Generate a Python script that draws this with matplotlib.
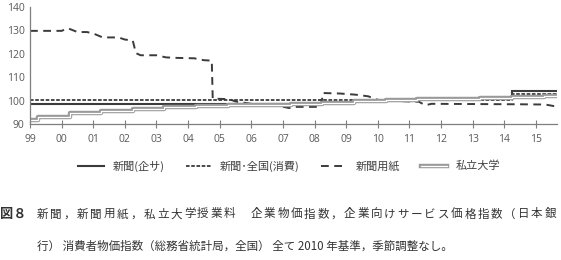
import matplotlib
matplotlib.use("Agg")
import matplotlib.pyplot as plt
import matplotlib.patheffects as pe

plt.rcParams['font.family'] = ['Noto Sans CJK JP', 'DejaVu Sans']

# ---- data (decimal year, index value; 2010 = 100) ----
year_ticks = list(range(1999, 2016))
year_labels = ["99", "00", "01", "02", "03", "04", "05", "06", "07", "08",
               "09", "10", "11", "12", "13", "14", "15"]

# 新聞（企業向けサービス価格指数）: step changes
kisa_x = [1999.0, 2008.25, 2009.25, 2010.0, 2011.25, 2014.25, 2015.67]
kisa_y = [98.6, 99.3, 99.7, 100.0, 100.6, 103.9, 103.9]

# 新聞・全国（消費者物価指数）
cpi_x = [1999.0, 2014.25, 2015.67]
cpi_y = [100.2, 103.0, 103.0]

# 新聞用紙（企業物価指数）
paper_x = [1999.0, 2000.0, 2000.2, 2000.5, 2000.8, 2001.0, 2001.3, 2001.8,
           2002.0, 2002.25, 2002.35, 2002.5, 2003.0, 2003.3, 2003.6, 2004.2,
           2004.5, 2004.75, 2004.78, 2005.3, 2005.5, 2006.0, 2006.5, 2006.9,
           2007.2, 2007.3, 2008.2, 2008.27, 2008.8, 2009.3, 2009.7, 2010.0,
           2010.5, 2011.0, 2011.3, 2011.5, 2011.7, 2014.5, 2015.3, 2015.67]
paper_y = [129.7, 129.7, 130.8, 129.2, 129.2, 128.6, 126.9, 126.9,
           126.0, 125.6, 120.2, 119.3, 119.3, 118.4, 118.2, 118.0,
           117.2, 117.0, 100.8, 100.6, 99.6, 98.6, 98.0, 97.6,
           96.8, 97.3, 97.3, 103.2, 103.0, 102.5, 101.8, 100.3,
           99.9, 99.6, 99.5, 98.0, 98.6, 98.4, 98.3, 97.4]

# 私立大学授業料（消費者物価指数）: April steps
univ_x = [1999.0, 1999.25, 2000.25, 2001.25, 2002.25, 2003.25, 2004.25,
          2005.25, 2006.25, 2007.25, 2008.25, 2009.25, 2010.25, 2011.25,
          2012.25, 2013.25, 2014.25, 2015.25, 2015.67]
univ_y = [91.6, 93.1, 94.6, 95.7, 96.5, 97.2, 97.7,
          98.0, 98.3, 98.7, 99.1, 99.6, 100.1, 100.5,
          100.8, 101.0, 101.6, 101.9, 101.9]

series_names = ["新聞(企サ)", "新聞･全国(消費)", "新聞用紙", "私立大学"]

# ---- figure ----
W, H = 561, 260
fig = plt.figure(figsize=(W / 100, H / 100), dpi=100)
ax = fig.add_axes([30 / W, 1 - 124 / H, (557 - 30) / W, (124 - 6.7) / H])

dark = "#3b3b3b"
ax.plot(kisa_x, kisa_y, drawstyle="steps-post", color=dark, lw=1.5,
        label=series_names[0], solid_joinstyle="miter")
ax.plot(cpi_x, cpi_y, drawstyle="steps-post", color=dark, lw=1.3,
        dashes=(2.0, 0.9), label=series_names[1])
ax.plot(paper_x, paper_y, color=dark, lw=1.4, dashes=(4.0, 2.8),
        label=series_names[2])
ax.plot(univ_x, univ_y, drawstyle="steps-post", color="white", lw=0.9,
        path_effects=[pe.Stroke(linewidth=3.2, foreground="#9a9a9a"), pe.Normal()],
        label=series_names[3])

ax.set_xlim(1999.0, 2015.67)
ax.set_ylim(90, 140)
ax.set_yticks([90, 100, 110, 120, 130, 140])
ax.set_xticks(year_ticks)
ax.set_xticklabels(year_labels)

for s in ["top", "right"]:
    ax.spines[s].set_visible(False)
for s in ["left", "bottom"]:
    ax.spines[s].set_color("#7f7f7f")
    ax.spines[s].set_linewidth(0.9)

ax.tick_params(axis="y", length=0, pad=4, labelsize=7.5, labelcolor="#595959")
ax.tick_params(axis="x", direction="inout", length=6, width=0.8, color="#7f7f7f",
               pad=4, labelsize=7.5, labelcolor="#595959")
for lab in ax.get_xticklabels() + ax.get_yticklabels():
    lab.set_family(["Open Sans", "DejaVu Sans"])

leg = fig.legend(loc="center", bbox_to_anchor=(289 / W, 1 - 166 / H), ncol=4,
                 frameon=False, fontsize=8, handlelength=2.3,
                 handletextpad=0.8, columnspacing=1.9)
for t in leg.get_texts():
    t.set_color("#404040")

# ---- caption ----
fig.text(0 / W, 1 - 214 / H, "図８", fontsize=9.5, fontweight="bold",
         va="center", ha="left", color="#333333")
line1 = "新聞，新聞用紙，私立大学授業料 企業物価指数，企業向けサービス価格指数（日本銀"
x0, pitch = 37, 13.35
for i, ch in enumerate(line1):
    fig.text((x0 + i * pitch) / W, 1 - 214 / H, ch, fontsize=8.3,
             va="center", ha="left", color="#333333")
fig.text(x0 / W, 1 - 246 / H,
         "行） 消費者物価指数（総務省統計局，全国） 全て 2010 年基準，季節調整なし。",
         fontsize=8.3, va="center", ha="left", color="#333333")

fig.savefig("out.png", dpi=100)
